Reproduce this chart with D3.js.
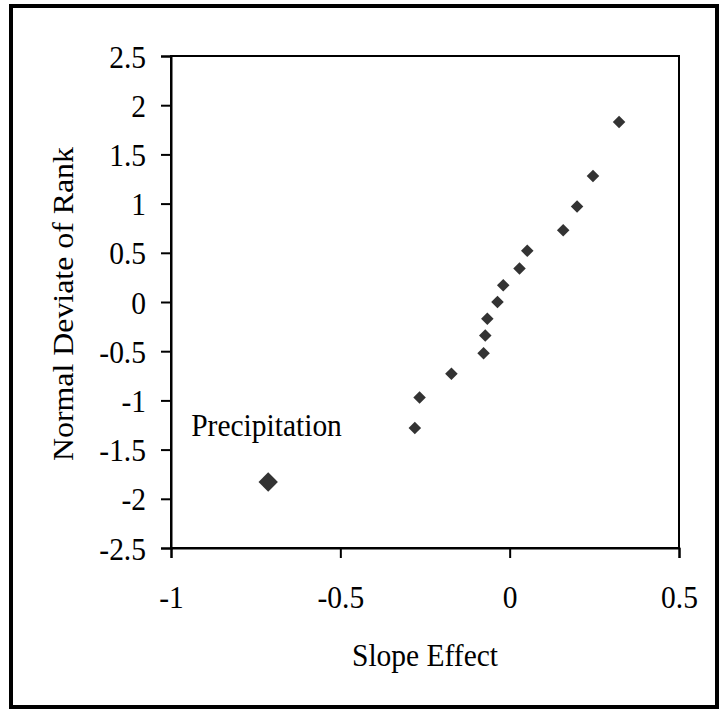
<!DOCTYPE html>
<html>
<head>
<meta charset="utf-8">
<script src="https://cdn.jsdelivr.net/npm/d3@7"></script>
<style>
	body { margin: 0; background: #fff; }
	svg text { font-family: "Liberation Serif", "Times New Roman", serif; fill: #000; }
</style>
</head>
<body>
<svg id="chart" width="719" height="711"></svg>
<script>
// Slope effects and their normal deviates of rank
const slopeEffect = [-0.713, -0.28, -0.266, -0.172, -0.077, -0.072, -0.066, -0.036, -0.019, 0.029, 0.052, 0.158, 0.199, 0.246, 0.323];
const normalDeviate = [-1.83, -1.28, -0.97, -0.73, -0.52, -0.34, -0.17, 0, 0.17, 0.34, 0.52, 0.73, 0.97, 1.28, 1.83];
const pointLabels = ["Precipitation", "", "", "", "", "", "", "", "", "", "", "", "", "", ""];
const xTicks = [-1, -0.5, 0, 0.5];
const yTicks = [2.5, 2, 1.5, 1, 0.5, 0, -0.5, -1, -1.5, -2, -2.5];

const svg = d3.select('#chart');
const fontSize = 29.5;
const stretch = 1.08;   // text in the original is a little taller than wide

// outer frame
svg.append("rect")
	.attr("x", 11).attr("y", 6)
	.attr("width", 706).attr("height", 701)
	.attr("fill", "none")
	.attr("stroke", "#000")
	.attr("stroke-width", 4);

const x = d3.scaleLinear().domain([-1, 0.5]).range([171, 679]);
const y = d3.scaleLinear().domain([-2.5, 2.5]).range([548, 56]);

// plot area box
svg.append("rect")
	.attr("x", 171).attr("y", 56)
	.attr("width", 508).attr("height", 492)
	.attr("fill", "none")
	.attr("stroke", "#000")
	.attr("stroke-width", 2);

const xAxis = svg.append("g")
	.attr("transform", "translate(0,548)")
	.call(d3.axisBottom(x).tickValues(xTicks).tickSize(10));
const yAxis = svg.append("g")
	.attr("transform", "translate(171,0)")
	.call(d3.axisLeft(y).tickValues(yTicks).tickSize(10));

[xAxis, yAxis].forEach(g => {
	g.select(".domain").attr("stroke", "#000").attr("stroke-width", 2);
	g.selectAll(".tick line").attr("stroke", "#000").attr("stroke-width", 2);
	g.selectAll(".tick text").remove();
});

// tick labels drawn by hand so they can be stretched vertically
xAxis.selectAll(".tick")
	.append("text")
	.attr("transform", `translate(0,60) scale(1,${stretch})`)
	.attr("text-anchor", "middle")
	.attr("font-size", fontSize)
	.text(d => String(d));

yAxis.selectAll(".tick")
	.append("text")
	.attr("transform", `translate(-25,11) scale(1,${stretch})`)
	.attr("text-anchor", "end")
	.attr("font-size", fontSize)
	.text(d => String(d));

// axis titles
svg.append("text")
	.attr("transform", `translate(425,666) scale(1,${stretch})`)
	.attr("text-anchor", "middle")
	.attr("font-size", fontSize)
	.text("Slope Effect");

svg.append("text")
	.attr("transform", `translate(72.5,304) scale(1,${stretch}) rotate(-90)`)
	.attr("text-anchor", "middle")
	.attr("font-size", fontSize)
	.text("Normal Deviate of Rank");

// points
const points = slopeEffect.map((d, i) => ({ sx: d, ny: normalDeviate[i], label: pointLabels[i] }));
const diamond = d3.symbol().type(d3.symbolDiamond2);

svg.selectAll("path.pt")
	.data(points)
	.enter()
	.append("path")
	.attr("class", "pt")
	.attr("d", d => diamond.size(d.label ? 240 : 100)())
	.attr("transform", d => `translate(${x(d.sx)},${y(d.ny)})`)
	.attr("fill", "#333");

svg.selectAll("text.pt-label")
	.data(points.filter(d => d.label))
	.enter()
	.append("text")
	.attr("class", "pt-label")
	.attr("transform", d => `translate(${x(d.sx) - 77},${y(d.ny) - 46}) scale(1,${stretch})`)
	.attr("font-size", fontSize)
	.text(d => d.label);
</script>
</body>
</html>
